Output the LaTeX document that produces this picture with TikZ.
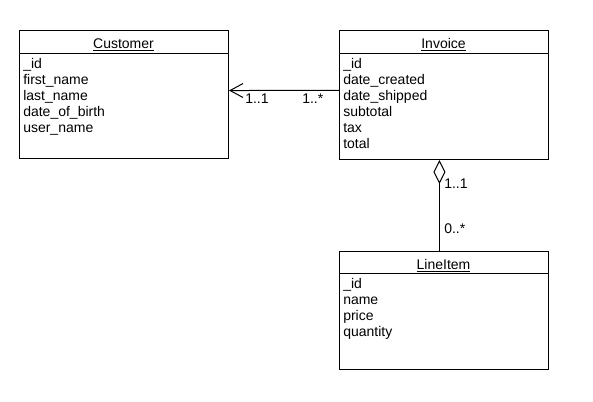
\documentclass[tikz,border=0pt]{standalone}
\usepackage{fontspec}
\setmainfont{Liberation Sans}
\usetikzlibrary{arrows.meta}

\begin{document}
\begin{tikzpicture}[
    x=0.75pt, y=-0.75pt,
    classbox/.style={draw, line width=0.75pt, minimum width=156.75pt, anchor=north west, inner sep=0pt},
    classtitle/.style={anchor=base, inner sep=0pt, font=\fontsize{10.5}{12}\selectfont},
    fields/.style={anchor=north west, inner sep=0pt, align=left, font=\fontsize{10.5}{12}\selectfont},
    mult/.style={anchor=base west, inner sep=0pt, font=\fontsize{10.5}{12}\selectfont},
    assoc/.style={line width=0.75pt, -{Straight Barb[length=9.75pt, width=10.5pt, line width=0.75pt]}},
    aggr/.style={line width=0.75pt, -{Diamond[open, length=18pt, width=9pt, line width=0.75pt]}}
]
    \useasboundingbox (0,0) rectangle (593,401);

    \node[classbox, minimum height=96pt] (customer) at (19,30) {};
    \node[classbox, minimum height=96.75pt] (invoice) at (339,30) {};
    \node[classbox, minimum height=88.5pt] (lineitem) at (339,251) {};

    \draw[line width=0.75pt] (customer.west |- 0,53) -- (customer.east |- 0,53);
    \draw[line width=0.75pt] (invoice.west |- 0,53) -- (invoice.east |- 0,53);
    \draw[line width=0.75pt] (lineitem.west |- 0,273) -- (lineitem.east |- 0,273);

    \node[classtitle] (customertitle) at (123.5,48) {\underline{Customer}};
    \node[classtitle] (invoicetitle) at (443.5,48) {\underline{Invoice}};
    \node[classtitle] (lineitemtitle) at (443.5,269) {\underline{LineItem}};

    \node[fields] (customerfields) at (23,58) {\_id\\first\_name\\last\_name\\date\_of\_birth\\user\_name};
    \node[fields] (invoicefields) at (343,58) {\_id\\date\_created\\date\_shipped\\subtotal\\tax\\total};
    \node[fields] (lineitemfields) at (343,278) {\_id\\name\\price\\quantity};

    \draw[assoc] ([yshift=3.4pt]invoice.west) -- ([yshift=3pt]customer.east);
    \node[mult] (custmult) at (245,103) {1..1};
    \node[mult] (invmult) at (302,103) {1..*};

    \draw[aggr] ([xshift=-3.4pt]lineitem.north) -- ([xshift=-3.4pt]invoice.south);
    \node[mult] (ownermult) at (444,188) {1..1};
    \node[mult] (itemmult) at (444,233) {0..*};
\end{tikzpicture}
\end{document}
